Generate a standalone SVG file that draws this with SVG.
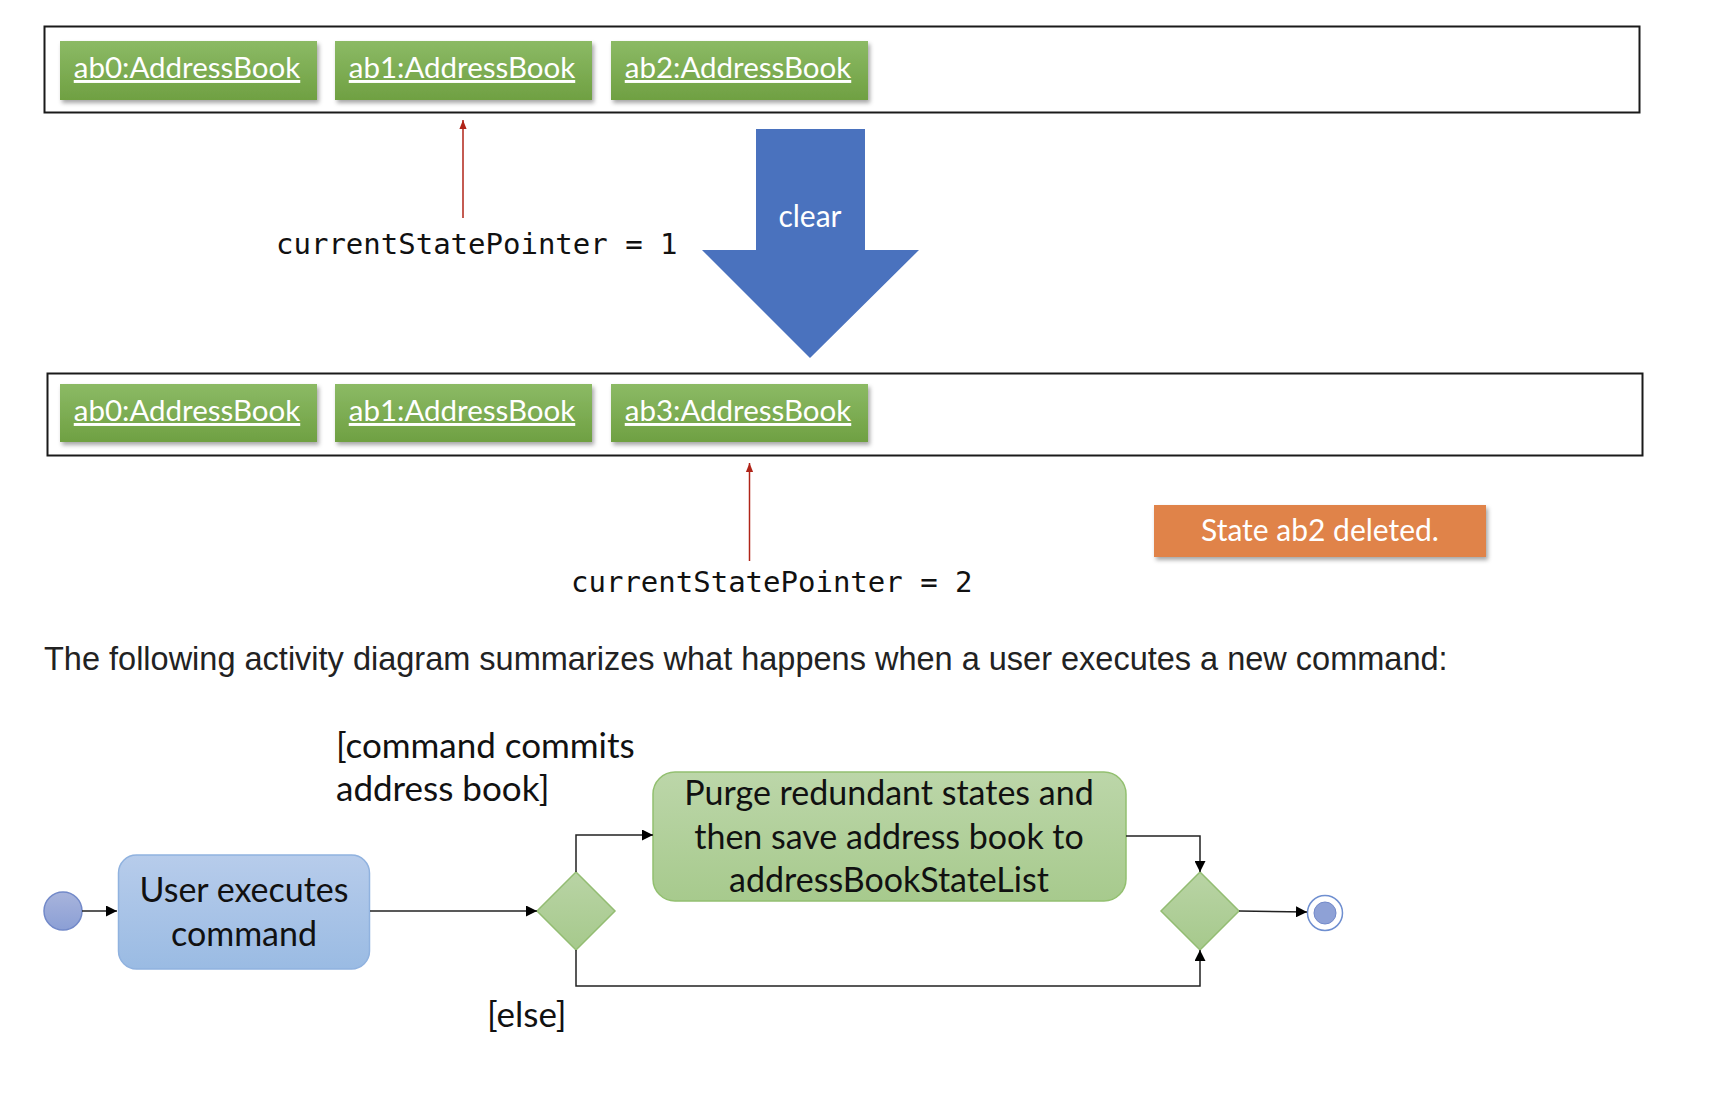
<svg xmlns="http://www.w3.org/2000/svg" width="1736" height="1112" viewBox="0 0 1736 1112">
<style>
.frame{fill:#fff;stroke:#1a1a1a;stroke-width:2}
.ab{fill:url(#gAB);filter:url(#sh)}
.abt{font-family:Lato,"Liberation Sans",sans-serif;font-size:29.5px;fill:#fff;text-decoration:underline;text-anchor:middle}
.mono{font-family:"DejaVu Sans Mono","Liberation Mono",monospace;font-size:29px;fill:#111}
.red{stroke:#b02418;stroke-width:1.5;fill:none}
.cal{font-family:Lato,"Liberation Sans",sans-serif;fill:#111}
.conn{stroke:#222;stroke-width:1.5;fill:none}
.dia{fill:url(#gDia);stroke:#93bd72;stroke-width:1.5}
</style>
<defs>
<linearGradient id="gAB" x1="0" y1="0" x2="0" y2="1"><stop offset="0" stop-color="#8cba65"/><stop offset="1" stop-color="#6fa042"/></linearGradient>
<linearGradient id="gBlue" x1="0" y1="0" x2="0" y2="1"><stop offset="0" stop-color="#b7cceb"/><stop offset="1" stop-color="#9abbe3"/></linearGradient>
<linearGradient id="gGreen" x1="0" y1="0" x2="0" y2="1"><stop offset="0" stop-color="#bcd6a9"/><stop offset="1" stop-color="#a7ca8d"/></linearGradient>
<linearGradient id="gDia" x1="0" y1="0" x2="0" y2="1"><stop offset="0" stop-color="#b9d4a5"/><stop offset="1" stop-color="#a6c98c"/></linearGradient>
<linearGradient id="gStart" x1="0" y1="0" x2="0" y2="1"><stop offset="0" stop-color="#a8b4dc"/><stop offset="1" stop-color="#8b9fd5"/></linearGradient>
<filter id="sh" x="-10%" y="-20%" width="120%" height="150%"><feDropShadow dx="2" dy="3" stdDeviation="2" flood-color="#000" flood-opacity="0.35"/></filter>
<marker id="ar" viewBox="0 0 10 10" refX="10" refY="5" markerWidth="11" markerHeight="11" markerUnits="userSpaceOnUse" orient="auto"><path d="M0,0 L10,5 L0,10 z" fill="#000"/></marker>
<marker id="arR" viewBox="0 0 10 10" refX="10" refY="5" markerWidth="9" markerHeight="9" markerUnits="userSpaceOnUse" orient="auto"><path d="M0,1 L10,5 L0,9 z" fill="#b02418"/></marker>
</defs>
<rect width="1736" height="1112" fill="#fff"/>

<g id="stateList1">
<rect class="frame" x="44.5" y="26.5" width="1595" height="86"/>
</g>
<g id="s1ab0"><rect class="ab" x="60" y="41" width="257" height="59"/><text class="abt" x="187" y="78">ab0:AddressBook</text></g>
<g id="s1ab1"><rect class="ab" x="335" y="41" width="257" height="59"/><text class="abt" x="462" y="78">ab1:AddressBook</text></g>
<g id="s1ab2"><rect class="ab" x="611" y="41" width="257" height="59"/><text class="abt" x="738" y="78">ab2:AddressBook</text></g>

<g id="pointer1"><text class="mono" x="276" y="254">currentStatePointer = 1</text></g>

<g id="clearArrow">
<polygon points="756,129 865,129 865,250 919,250 810,358 702,250 756,250" fill="#4a72be"/>
<text x="810" y="227" text-anchor="middle" font-family="Lato,'Liberation Sans',sans-serif" font-size="30" fill="#fff">clear</text>
</g>

<g id="stateList2">
<rect class="frame" x="47.5" y="373.5" width="1595" height="82"/>
</g>
<g id="s2ab0"><rect class="ab" x="60" y="384" width="257" height="58"/><text class="abt" x="187" y="421">ab0:AddressBook</text></g>
<g id="s2ab1"><rect class="ab" x="335" y="384" width="257" height="58"/><text class="abt" x="462" y="421">ab1:AddressBook</text></g>
<g id="s2ab3"><rect class="ab" x="611" y="384" width="257" height="58"/><text class="abt" x="738" y="421">ab3:AddressBook</text></g>

<g id="pointer2"><text class="mono" x="571" y="592">currentStatePointer = 2</text></g>

<g id="deletedNote">
<rect x="1154" y="505" width="332" height="52" fill="#e0834a" filter="url(#sh)"/>
<text x="1320" y="541" text-anchor="middle" font-family="Lato,'Liberation Sans',sans-serif" font-size="30" fill="#fff">State ab2 deleted.</text>
</g>

<g id="caption">
<text x="44" y="670" font-family="'Liberation Sans',Arial,sans-serif" font-size="32.5" fill="#222">The following activity diagram summarizes what happens when a user executes a new command:</text>
</g>

<g id="start"><circle cx="63" cy="911" r="19" fill="url(#gStart)" stroke="#7289c9" stroke-width="1.5"/></g>
<g id="userExecutes">
<rect x="118.5" y="855" width="251" height="114" rx="18" fill="url(#gBlue)" stroke="#90b2df" stroke-width="1.5"/>
<text class="cal" font-size="34" text-anchor="middle" x="244" y="902">User executes</text>
<text class="cal" font-size="34" text-anchor="middle" x="244" y="946">command</text>
</g>
<g id="decision"><polygon class="dia" points="576,872 615,911 576,950 537,911"/></g>
<g id="purge">
<rect x="653" y="772" width="473" height="129" rx="22" fill="url(#gGreen)" stroke="#93c070" stroke-width="1.5"/>
<text class="cal" font-size="34" text-anchor="middle" x="889" y="805">Purge redundant states and</text>
<text class="cal" font-size="34" text-anchor="middle" x="889" y="849">then save address book to</text>
<text class="cal" font-size="34" text-anchor="middle" x="889" y="892">addressBookStateList</text>
</g>
<g id="merge"><polygon class="dia" points="1200,872 1239,911 1200,950 1161,911"/></g>
<g id="end">
<circle cx="1325" cy="913" r="17.5" fill="#fff" stroke="#6f8fd0" stroke-width="1.5"/>
<circle cx="1325" cy="913" r="11" fill="#8ea1d6" stroke="#7289c9" stroke-width="1"/>
</g>

<g id="guards">
<text class="cal" font-size="35" x="336" y="758">[command commits</text>
<text class="cal" font-size="35" x="336" y="801">address book]</text>
<text class="cal" font-size="35" x="487" y="1027">[else]</text>
</g>

<g id="connectors">
<line class="red" x1="463" y1="218" x2="463" y2="120" marker-end="url(#arR)"/>
<line class="red" x1="749.5" y1="561" x2="749.5" y2="463" marker-end="url(#arR)"/>
<line class="conn" x1="82" y1="911" x2="117" y2="911" marker-end="url(#ar)"/>
<line class="conn" x1="370" y1="911" x2="537" y2="911" marker-end="url(#ar)"/>
<polyline class="conn" points="576,872 576,835 653,835" marker-end="url(#ar)"/>
<polyline class="conn" points="1126,836 1200,836 1200,872" marker-end="url(#ar)"/>
<polyline class="conn" points="576,950 576,986 1200,986 1200,950" marker-end="url(#ar)"/>
<line class="conn" x1="1239" y1="911" x2="1307" y2="912" marker-end="url(#ar)"/>
</g>
</svg>
